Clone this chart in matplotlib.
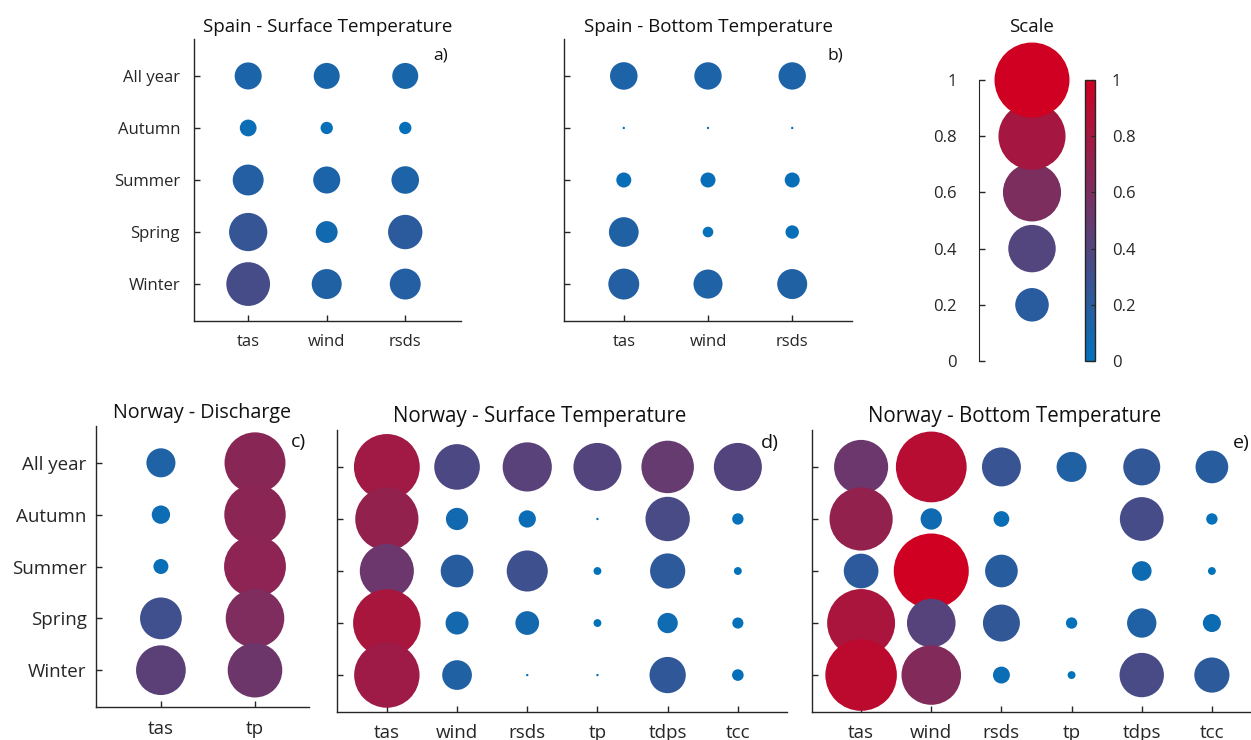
import numpy as np
import matplotlib
matplotlib.use('Agg')
import matplotlib.pyplot as plt
from matplotlib.colors import LinearSegmentedColormap, Normalize
from matplotlib.cm import ScalarMappable

plt.rcParams['font.family'] = ['Open Sans', 'DejaVu Sans']

seasons = ['All year', 'Autumn', 'Summer', 'Spring', 'Winter']

spain_vars = ['tas', 'wind', 'rsds']
norway_q_vars = ['tas', 'tp']
norway_vars = ['tas', 'wind', 'rsds', 'tp', 'tdps', 'tcc']

# rows follow seasons, columns follow the variables
spain_surface = [
    [0.13, 0.12, 0.12],
    [0.05, 0.027, 0.027],
    [0.17, 0.13, 0.135],
    [0.26, 0.085, 0.21],
    [0.34, 0.16, 0.17],
]
spain_bottom = [
    [0.135, 0.133, 0.133],
    [0.001, 0.001, 0.001],
    [0.04, 0.04, 0.04],
    [0.157, 0.02, 0.032],
    [0.17, 0.15, 0.16],
]
norway_discharge = [
    [0.15, 0.66],
    [0.06, 0.67],
    [0.04, 0.68],
    [0.31, 0.61],
    [0.44, 0.53],
]
norway_surface = [
    [0.77, 0.37, 0.43, 0.41, 0.49, 0.41],
    [0.71, 0.088, 0.053, 0.001, 0.35, 0.023],
    [0.52, 0.19, 0.30, 0.011, 0.22, 0.011],
    [0.81, 0.094, 0.10, 0.011, 0.073, 0.022],
    [0.76, 0.157, 0.001, 0.001, 0.234, 0.024],
]
norway_bottom = [
    [0.52, 0.89, 0.27, 0.16, 0.243, 0.19],
    [0.71, 0.081, 0.044, 0.0, 0.34, 0.023],
    [0.214, 1.0, 0.19, 0.0, 0.069, 0.011],
    [0.82, 0.42, 0.243, 0.023, 0.153, 0.058],
    [0.91, 0.63, 0.051, 0.011, 0.35, 0.22],
]

scale_values = [0.2, 0.4, 0.6, 0.8, 1.0]
scale_ticks = [0, 0.2, 0.4, 0.6, 0.8, 1]
scale_labels = ['0', '0.2', '0.4', '0.6', '0.8', '1']

W, H = 1251, 740
fig = plt.figure(figsize=(W / 100, H / 100), dpi=100)

cmap = LinearSegmentedColormap.from_list('bluered', [(0.0, 0.45, 0.74), (0.81, 0.0, 0.13)])
norm = Normalize(0, 1)
SMAX = 54 ** 2  # marker area (pt^2) for value 1
TXT = '#262626'


def box(l, t, r, b):
    return [l / W, 1 - b / H, (r - l) / W, (b - t) / H]


def bubble_panel(rect, data, xlabels, title, tag, tag_xy, fs_tick, fs_title,
                 xlim, ylim, show_y=True, title_x=0.5, xpad=6, ypad=10):
    ax = fig.add_axes(rect)
    vals = np.array(data)
    nr, nc = vals.shape
    xx, yy = np.meshgrid(np.arange(1, nc + 1), np.arange(nr, 0, -1))
    ax.scatter(xx.ravel(), yy.ravel(), s=vals.ravel() * SMAX, c=vals.ravel(),
               cmap=cmap, norm=norm, linewidths=0, clip_on=False, zorder=3)
    ax.set_xlim(xlim)
    ax.set_ylim(ylim)
    ax.set_xticks(np.arange(1, nc + 1))
    ax.set_xticklabels(xlabels, fontsize=fs_tick, color=TXT)
    ax.set_yticks(np.arange(nr, 0, -1))
    ax.set_yticklabels(seasons if show_y else [], fontsize=fs_tick, color=TXT)
    ax.tick_params(axis='x', direction='in', length=4, width=1, color=TXT, pad=xpad)
    ax.tick_params(axis='y', direction='in', length=4, width=1, color=TXT, pad=ypad)
    for side in ['top', 'right']:
        ax.spines[side].set_visible(False)
    for side in ['left', 'bottom']:
        ax.spines[side].set_color(TXT)
        ax.spines[side].set_linewidth(1)
    ax.text(title_x, 1.012, title, transform=ax.transAxes, ha='center', va='bottom',
            fontsize=fs_title, color='#111111')
    ax.text(tag_xy[0], tag_xy[1], tag, transform=ax.transAxes, ha='center', va='center',
            fontsize=fs_tick + 0.5, color='#111111')
    return ax


# top row
bubble_panel(box(194, 39, 461, 321), spain_surface, spain_vars,
             'Spain - Surface Temperature', 'a)', (0.925, 0.943), 12, 13.5,
             (0.31, 3.71), (0.29, 5.71), xpad=9.5)
bubble_panel(box(564, 39, 852, 321), spain_bottom, spain_vars,
             'Spain - Bottom Temperature', 'b)', (0.944, 0.943), 12, 13.5,
             (0.29, 3.71), (0.29, 5.71), show_y=False, xpad=9.5)

# scale panel
ax = fig.add_axes(box(979, 80, 1085, 361))
ax.scatter(np.ones(len(scale_values)), scale_values, s=np.array(scale_values) * SMAX,
           c=scale_values, cmap=cmap, norm=norm, linewidths=0, clip_on=False, zorder=3)
ax.set_xlim(0, 2)
ax.set_ylim(0, 1)
ax.set_xticks([])
ax.set_yticks(scale_ticks)
ax.set_yticklabels(scale_labels, fontsize=12, color=TXT)
ax.tick_params(axis='y', direction='in', length=4, width=1, color=TXT, pad=16)
for side in ['top', 'right', 'bottom']:
    ax.spines[side].set_visible(False)
ax.spines['left'].set_color(TXT)
ax.text(0.5, 1.155, 'Scale', transform=ax.transAxes, ha='center', va='bottom',
        fontsize=13.5, color='#111111')

cax = fig.add_axes(box(1085, 80, 1095, 361))
cb = fig.colorbar(ScalarMappable(norm=norm, cmap=cmap), cax=cax)
cb.set_ticks(scale_ticks)
cb.set_ticklabels(scale_labels)
cb.ax.tick_params(labelsize=12, labelcolor=TXT, direction='in', length=3, color=TXT, pad=12)
cb.outline.set_edgecolor(TXT)
cb.outline.set_linewidth(1)

# bottom row
bubble_panel(box(96, 426, 309, 707), norway_discharge, norway_q_vars,
             'Norway - Discharge', 'c)', (0.95, 0.943), 13.5, 14.2,
             (0.31, 2.574), (0.29, 5.71), xpad=9, ypad=6.7)
bubble_panel(box(337, 430, 787, 712), norway_surface, norway_vars,
             'Norway - Surface Temperature', 'd)', (0.962, 0.954), 13.5, 14.8,
             (0.29, 6.7), (0.29, 5.71), show_y=False, title_x=0.451, xpad=9)
bubble_panel(box(812, 430, 1261, 712), norway_bottom, norway_vars,
             'Norway - Bottom Temperature', 'e)', (0.955, 0.954), 13.5, 14.8,
             (0.3, 6.7), (0.29, 5.71), show_y=False, title_x=0.452, xpad=9)

fig.savefig('out.png', dpi=100)
